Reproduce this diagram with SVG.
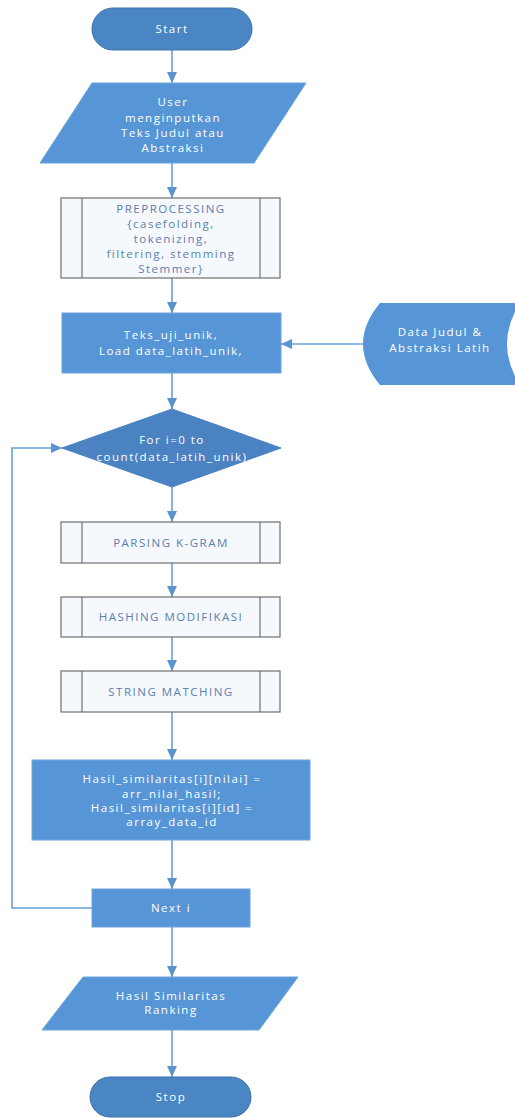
<svg xmlns="http://www.w3.org/2000/svg" width="515" height="1118" viewBox="0 0 515 1118">
  <style>
    .term { fill: #4a85c4; stroke: #3e72a8; stroke-width: 1; }
    .proc { fill: #5796d6; stroke: #6aa4dc; stroke-width: 1; }
    .io { fill: #5796d6; stroke: #6aa4dc; stroke-width: 1; }
    .dec { fill: #4a82c2; stroke: #4a82c2; stroke-width: 1; }
    .sub { fill: #f5f8fc; stroke: #707070; stroke-width: 1.2; }
    .store { fill: #5796d6; }
    .lbl { font-family: "Open Sans", "Liberation Sans", sans-serif; font-size: 11.5px; letter-spacing: 1.5px; fill: #ffffff; text-anchor: middle; }
    .sublbl { font-family: "Open Sans", "Liberation Sans", sans-serif; font-size: 11.5px; letter-spacing: 1.5px; fill: #5b7fae; text-anchor: middle; }
    .edge { fill: none; stroke: #6aa0d6; stroke-width: 1.6; marker-end: url(#arrow); }
  </style>
  <defs>
    <marker id="arrow" markerUnits="userSpaceOnUse" markerWidth="12" markerHeight="10" refX="11" refY="5" orient="auto">
      <path d="M0,0 L11,5 L0,10 Z" fill="#5b93cf"/>
    </marker>
  </defs>

  <rect width="515" height="1118" fill="#ffffff"/>

  <!-- connectors -->
  <g id="connectors">
    <line class="edge" x1="172" y1="50" x2="172" y2="83"/>
    <line class="edge" x1="172" y1="163" x2="172" y2="198"/>
    <line class="edge" x1="172" y1="278" x2="172" y2="313"/>
    <line class="edge" x1="363" y1="344" x2="281" y2="344"/>
    <line class="edge" x1="172" y1="373" x2="172" y2="409"/>
    <line class="edge" x1="172" y1="487" x2="172" y2="522"/>
    <line class="edge" x1="172" y1="563" x2="172" y2="597"/>
    <line class="edge" x1="172" y1="637" x2="172" y2="671"/>
    <line class="edge" x1="172" y1="712" x2="172" y2="760"/>
    <line class="edge" x1="172" y1="840" x2="172" y2="889"/>
    <line class="edge" x1="172" y1="927" x2="172" y2="977"/>
    <line class="edge" x1="172" y1="1030" x2="172" y2="1077"/>
    <polyline class="edge" points="92,908 12,908 12,448 62,448"/>
  </g>

  <!-- start -->
  <g id="start">
    <rect class="term" x="92" y="8" width="160" height="42" rx="21"/>
    <text class="lbl" x="172" y="33">Start</text>
  </g>

  <!-- user input -->
  <g id="input">
    <polygon class="io" points="92,83 306,83 254,163 40,163"/>
    <text class="lbl" x="173" y="106">User</text>
    <text class="lbl" x="173" y="122">menginputkan</text>
    <text class="lbl" x="173" y="137">Teks Judul atau</text>
    <text class="lbl" x="173" y="152">Abstraksi</text>
  </g>

  <!-- preprocessing subprocess -->
  <g id="preprocessing">
    <rect class="sub" x="61" y="198" width="219" height="80"/>
    <line class="sub" x1="82" y1="198" x2="82" y2="278"/>
    <line class="sub" x1="260" y1="198" x2="260" y2="278"/>
    <text class="sublbl" x="171" y="213">PREPROCESSING</text>
    <text class="sublbl" x="171" y="228">{casefolding,</text>
    <text class="sublbl" x="171" y="243">tokenizing,</text>
    <text class="sublbl" x="171" y="258">filtering, stemming</text>
    <text class="sublbl" x="171" y="273">Stemmer}</text>
  </g>

  <!-- load data -->
  <g id="load">
    <rect class="proc" x="62" y="313" width="219" height="60"/>
    <text class="lbl" x="171" y="339">Teks_uji_unik,</text>
    <text class="lbl" x="171" y="355">Load data_latih_unik,</text>
  </g>

  <!-- training data store -->
  <g id="datastore">
    <path class="store" d="M380,303 L520,303 Q494,344 520,385 L380,385 Q346,344 380,303 Z"/>
    <text class="lbl" x="440" y="336">Data Judul &amp;</text>
    <text class="lbl" x="440" y="352">Abstraksi Latih</text>
  </g>

  <!-- loop decision -->
  <g id="loop">
    <polygon class="dec" points="172,409 281,448 172,487 62,448"/>
    <text class="lbl" x="172" y="444">For i=0 to</text>
    <text class="lbl" x="172" y="461">count(data_latih_unik)</text>
  </g>

  <!-- k-gram parsing -->
  <g id="kgram">
    <rect class="sub" x="61" y="522" width="219" height="41"/>
    <line class="sub" x1="82" y1="522" x2="82" y2="563"/>
    <line class="sub" x1="260" y1="522" x2="260" y2="563"/>
    <text class="sublbl" x="171" y="547">PARSING K-GRAM</text>
  </g>

  <!-- hashing -->
  <g id="hashing">
    <rect class="sub" x="61" y="597" width="219" height="40"/>
    <line class="sub" x1="82" y1="597" x2="82" y2="637"/>
    <line class="sub" x1="260" y1="597" x2="260" y2="637"/>
    <text class="sublbl" x="171" y="621">HASHING MODIFIKASI</text>
  </g>

  <!-- string matching -->
  <g id="matching">
    <rect class="sub" x="61" y="671" width="219" height="41"/>
    <line class="sub" x1="82" y1="671" x2="82" y2="712"/>
    <line class="sub" x1="260" y1="671" x2="260" y2="712"/>
    <text class="sublbl" x="171" y="696">STRING MATCHING</text>
  </g>

  <!-- similarity result assignment -->
  <g id="assign">
    <rect class="proc" x="32" y="760" width="278" height="80"/>
    <text class="lbl" x="172" y="783">Hasil_similaritas[i][nilai] =</text>
    <text class="lbl" x="172" y="798">arr_nilai_hasil;</text>
    <text class="lbl" x="172" y="812">Hasil_similaritas[i][id] =</text>
    <text class="lbl" x="172" y="826">array_data_id</text>
  </g>

  <!-- next iteration -->
  <g id="next">
    <rect class="proc" x="92" y="889" width="158" height="38"/>
    <text class="lbl" x="171" y="912">Next i</text>
  </g>

  <!-- ranking output -->
  <g id="output">
    <polygon class="io" points="83,977 298,977 259,1030 42,1030"/>
    <text class="lbl" x="171" y="1000">Hasil Similaritas</text>
    <text class="lbl" x="171" y="1014">Ranking</text>
  </g>

  <!-- stop -->
  <g id="stop">
    <rect class="term" x="90" y="1077" width="161" height="40" rx="20"/>
    <text class="lbl" x="171" y="1101">Stop</text>
  </g>
</svg>
